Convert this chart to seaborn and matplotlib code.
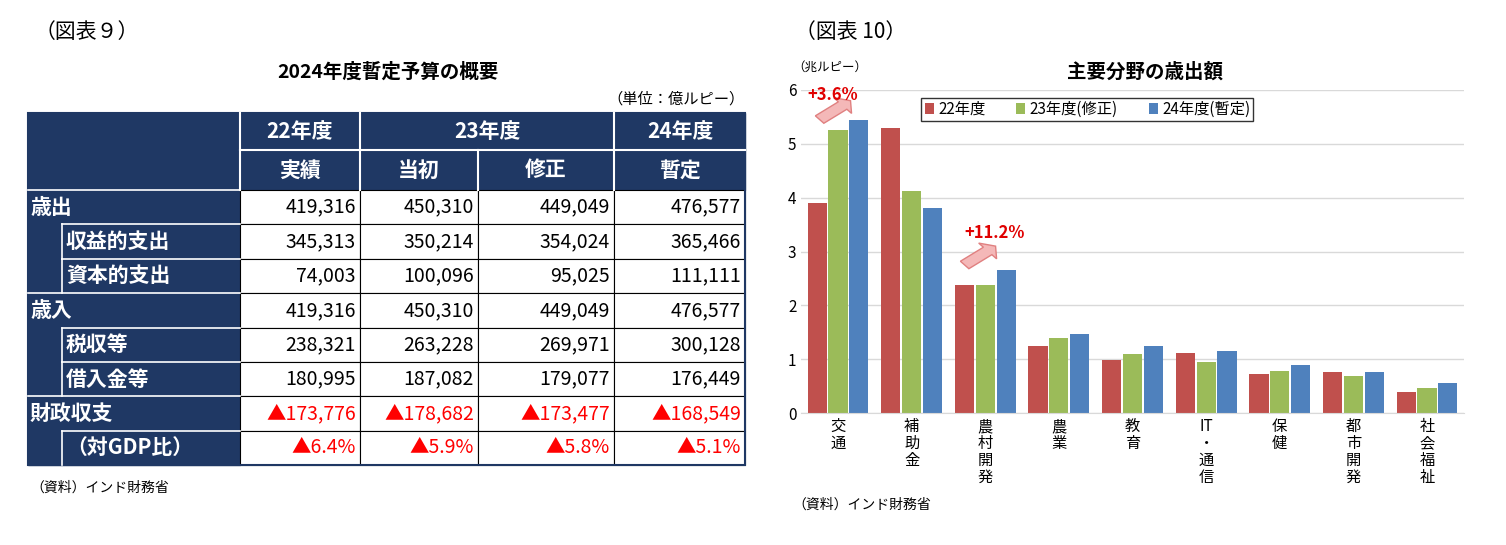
import matplotlib
matplotlib.use("Agg")
import matplotlib.pyplot as plt
import seaborn as sns
import pandas as pd
from matplotlib.patches import Rectangle, FancyArrow

plt.rcParams["font.family"] = "Noto Sans CJK JP"

# table data
row_labels = ["歳出", "収益的支出", "資本的支出", "歳入", "税収等", "借入金等", "財政収支", "（対GDP比）"]
row_indent = [False, True, True, False, True, True, False, True]
table_vals = [
    ["419,316", "450,310", "449,049", "476,577"],
    ["345,313", "350,214", "354,024", "365,466"],
    ["74,003", "100,096", "95,025", "111,111"],
    ["419,316", "450,310", "449,049", "476,577"],
    ["238,321", "263,228", "269,971", "300,128"],
    ["180,995", "187,082", "179,077", "176,449"],
    ["▲173,776", "▲178,682", "▲173,477", "▲168,549"],
    ["▲6.4%", "▲5.9%", "▲5.8%", "▲5.1%"],
]
red_rows = [6, 7]
head_top = ["22年度", "23年度", "24年度"]
head_sub = ["実績", "当初", "修正", "暫定"]

# chart data
categories = ["交通", "補助金", "農村開発", "農業", "教育", "IT・通信", "保健", "都市開発", "社会福祉"]
tick_labels = ["交\n通", "補\n助\n金", "農\n村\n開\n発", "農\n業", "教\n育", "IT\n・\n通\n信",
               "保\n健", "都\n市\n開\n発", "社\n会\n福\n祉"]
series = ["22年度", "23年度(修正)", "24年度(暫定)"]
v22 = [3.90, 5.30, 2.38, 1.25, 0.98, 1.11, 0.73, 0.77, 0.39]
v23 = [5.25, 4.13, 2.38, 1.40, 1.09, 0.95, 0.79, 0.69, 0.46]
v24 = [5.44, 3.81, 2.65, 1.46, 1.24, 1.15, 0.89, 0.77, 0.56]
colors = ["#c0504d", "#9bbb59", "#4f81bd"]

fig = plt.figure(figsize=(15.06, 5.45), dpi=100)

# ---- table (pixel coordinates) ----
tax = fig.add_axes([0, 0, 1, 1])
tax.set_xlim(0, 1506)
tax.set_ylim(545, 0)
tax.axis("off")
navy = "#1f3864"
tax.text(35, 32, "（図表９）", fontsize=15, va="center")
tax.text(388, 72, "2024年度暫定予算の概要", fontsize=14, fontweight="bold", ha="center", va="center")
tax.text(745, 99, "（単位：億ルピー）", fontsize=11, ha="right", va="center")
tax.text(30, 488, "（資料）インド財務省", fontsize=10, va="center")

cols = [240, 360, 478, 614, 745]
left = 28
tax.add_patch(Rectangle((left, 113), 745 - left, 77, color=navy))
tax.add_patch(Rectangle((left, 113), 212, 352, color=navy))
# header
hkw = dict(color="white", fontsize=15, fontweight="bold", ha="center", va="center")
tax.text(300, 132, head_top[0], **hkw)
tax.text(487, 132, head_top[1], **hkw)
tax.text(680, 132, head_top[2], **hkw)
for i, s in enumerate(head_sub):
    tax.text((cols[i] + cols[i + 1]) / 2, 170, s, **hkw)
tax.plot([240, 745], [150, 150], color="white", lw=1.5)
for x in [240, 360, 614]:
    tax.plot([x, x], [113, 190], color="white", lw=1.5)
tax.plot([478, 478], [150, 190], color="white", lw=1.5)

row_h = (465 - 190) / 8
for r, lab in enumerate(row_labels):
    y0 = 190 + r * row_h
    yc = y0 + row_h / 2
    xl = 66 if row_indent[r] else 30
    tax.text(xl, yc, lab, color="white", fontsize=15, fontweight="bold", va="center")
    for c in range(4):
        tax.add_patch(Rectangle((cols[c], y0), cols[c + 1] - cols[c], row_h,
                                facecolor="white", edgecolor="black", lw=0.8))
        tax.text(cols[c + 1] - 4, yc, table_vals[r][c], fontsize=14, ha="right", va="center",
                 color="#ff0000" if r in red_rows else "black")
    if row_indent[r]:
        tax.plot([62, 240], [y0, y0], color="white", lw=1.2)
        tax.plot([62, 62], [y0, y0 + row_h], color="white", lw=1.2)
    else:
        tax.plot([left, 240], [y0, y0], color="white", lw=1.2)
tax.add_patch(Rectangle((left, 113), 745 - left, 352, fill=False, edgecolor=navy, lw=1.5))

# ---- bar chart ----
tax.text(795, 32, "（図表 10）", fontsize=15, va="center")
tax.text(1145, 72, "主要分野の歳出額", fontsize=14, fontweight="bold", ha="center", va="center")
tax.text(792, 67, "（兆ルピー）", fontsize=9, va="center")
tax.text(792, 505, "（資料）インド財務省", fontsize=10, va="center")

df = pd.DataFrame({
    "cat": categories * 3,
    "series": [series[0]] * 9 + [series[1]] * 9 + [series[2]] * 9,
    "val": v22 + v23 + v24,
})
ax = fig.add_axes([0.532, 0.242, 0.44, 0.593])
sns.barplot(data=df, x="cat", y="val", hue="series", palette=colors, ax=ax,
            width=0.85, gap=0.08, saturation=1)
ax.set_ylim(0, 6)
ax.set_yticks(range(7))
ax.set_xlabel("")
ax.set_ylabel("")
ax.set_xticks(range(9))
ax.set_xticklabels(tick_labels, fontsize=11, va="top", linespacing=1.0)
ax.tick_params(axis="y", labelsize=11, length=0)
ax.tick_params(axis="x", length=0)
ax.grid(axis="y", color="#d9d9d9", lw=1)
ax.set_axisbelow(True)
for s in ["top", "right", "left"]:
    ax.spines[s].set_visible(False)
ax.spines["bottom"].set_color("#d9d9d9")
ax.legend(loc="upper left", bbox_to_anchor=(0.17, 1.0), ncol=3, frameon=True, fancybox=False,
          edgecolor="black", fontsize=11, handlelength=0.6, handletextpad=0.3, columnspacing=2.0,
          borderpad=0.2)
ax.add_patch(FancyArrow(-0.25, 5.45, 0.42, 0.35, width=0.18, head_width=0.38, head_length=0.14,
                        facecolor="#f4b8b8", edgecolor="#e08080", length_includes_head=True, clip_on=False))
ax.text(-0.42, 5.9, "+3.6%", color="#e00000", fontsize=12, fontweight="bold", va="center")
ax.add_patch(FancyArrow(1.72, 2.75, 0.42, 0.35, width=0.18, head_width=0.38, head_length=0.14,
                        facecolor="#f4b8b8", edgecolor="#e08080", length_includes_head=True, clip_on=False))
ax.text(1.72, 3.35, "+11.2%", color="#e00000", fontsize=12, fontweight="bold", va="center")

fig.savefig("out.png", dpi=100)
